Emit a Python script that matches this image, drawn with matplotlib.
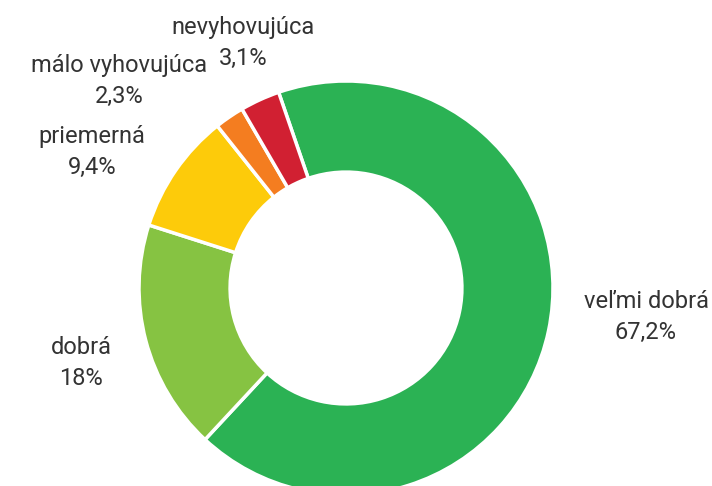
import matplotlib.pyplot as plt

# hodnotenie - podiely v percentach
categories = ['veľmi dobrá', 'dobrá', 'priemerná', 'málo vyhovujúca', 'nevyhovujúca']
values = [67.2, 18.0, 9.4, 2.3, 3.1]
value_labels = ['67,2%', '18%', '9,4%', '2,3%', '3,1%']
colors = ['#2bb254', '#86c342', '#fdcb0a', '#f47d20', '#d12032']

# label centres in pixels (x from left, y from top)
label_pos = [(646, 317), (81, 363), (92, 152), (119, 81), (243, 43)]

W, H = 712, 486
fig = plt.figure(figsize=(W / 100, H / 100), dpi=100)

# donut centre and radius in pixels
cx, cy, r = 346, 288, 207
ax = fig.add_axes([(cx - r) / W, (H - cy - r) / H, 2 * r / W, 2 * r / H])
ax.pie(values, colors=colors, startangle=109, counterclock=False,
       radius=1, wedgeprops=dict(width=0.44, edgecolor='white', linewidth=2.5))
ax.set_xlim(-1, 1)
ax.set_ylim(-1, 1)
ax.axis('off')

for name, val, (px, py) in zip(categories, value_labels, label_pos):
    fig.text(px / W, 1 - py / H, name + '\n' + val, ha='center', va='center',
             fontsize=17, family='Roboto', color='#333333', linespacing=1.45)

fig.savefig('out.png', dpi=100)
